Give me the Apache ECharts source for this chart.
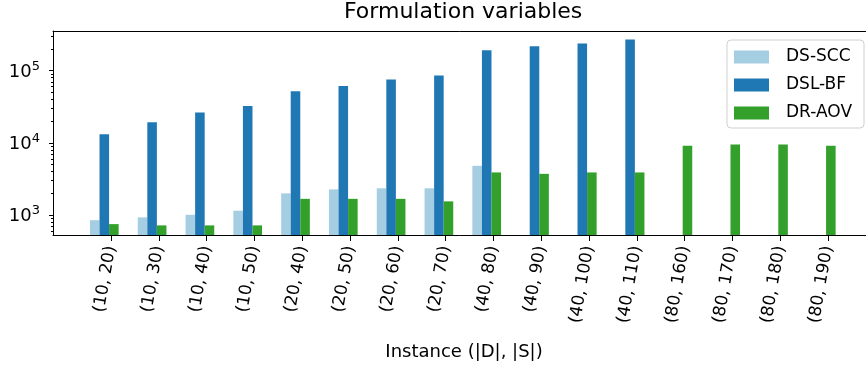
<!DOCTYPE html>
<html>
<head>
<meta charset="utf-8">
<script src="https://cdn.jsdelivr.net/npm/echarts@6/dist/echarts.min.js"></script>
<style>
    html, body { margin: 0; padding: 0; background: #fff; }
    #chart { width: 866px; height: 367px; }
</style>
</head>
<body>
<div id="chart"></div>
<script>
var instances = ['(10, 20)', '(10, 30)', '(10, 40)', '(10, 50)', '(20, 40)', '(20, 50)', '(20, 60)', '(20, 70)',
    '(40, 80)', '(40, 90)', '(40, 100)', '(40, 110)', '(80, 160)', '(80, 170)', '(80, 180)', '(80, 190)'];

var dsScc = [850, 930, 1010, 1150, 2000, 2270, 2350, 2350, 4820, '-', '-', '-', '-', '-', '-', '-'];
var dslBf = [13200, 19400, 26400, 32400, 52100, 61200, 75700, 86100, 192800, 219000, 238600, 271000, '-', '-', '-', '-'];
var drAov = [750, 720, 720, 720, 1680, 1680, 1680, 1550, 3900, 3730, 3900, 3900, 9120, 9530, 9530, 9120];

var majorTicks = [1000, 10000, 100000];
var minorTicks = [600, 700, 800, 900, 2000, 3000, 4000, 5000, 6000, 7000, 8000, 9000,
    20000, 30000, 40000, 50000, 60000, 70000, 80000, 90000, 200000, 300000];

var yMin = 530;
var yMax = 355000;

var chart = echarts.init(document.getElementById('chart'), null, {renderer: 'canvas'});

var font = 'DejaVu Sans';
var ink = '#000';

var gridTop = 31;
var gridHeight = 204;

var option = {
    animation: false,
    backgroundColor: '#fff',
    title: {
        text: 'Formulation variables',
        left: 344,
        top: 1,
        padding: 0,
        textStyle: {fontFamily: font, fontSize: 22, fontWeight: 'normal', color: ink}
    },
    legend: {
        orient: 'vertical',
        left: 727,
        top: 40,
        padding: [8, 12, 6, 7],
        itemWidth: 35,
        itemHeight: 13,
        itemGap: 10,
        icon: 'rect',
        backgroundColor: 'rgba(255,255,255,0.8)',
        borderColor: '#d0d0d0',
        borderWidth: 1,
        borderRadius: 4,
        textStyle: {fontFamily: font, fontSize: 17, color: ink, lineHeight: 18, padding: [0, 0, 0, 12]},
        data: ['DS-SCC', 'DSL-BF', 'DR-AOV']
    },
    grid: [
        // frame with the spines and the log axis
        {left: 53, top: gridTop, width: 822, height: gridHeight, outerBoundsMode: 'none', containLabel: false},
        // tick marks and labels of the instances
        {left: 87.1, top: gridTop, width: 764.8, height: gridHeight, outerBoundsMode: 'none', containLabel: false},
        // bars, shifted a bit left of the ticks
        {left: 80.4, top: gridTop, width: 764.8, height: gridHeight, outerBoundsMode: 'none', containLabel: false}
    ],
    xAxis: [
        {
            gridIndex: 0, type: 'value', min: 0, max: 1, position: 'bottom',
            name: 'Instance (|D|, |S|)', nameLocation: 'middle', nameGap: 108,
            nameTextStyle: {fontFamily: font, fontSize: 18, color: ink},
            axisLine: {show: true, lineStyle: {color: ink, width: 1}},
            axisTick: {show: false}, axisLabel: {show: false}, splitLine: {show: false}
        },
        {
            gridIndex: 0, type: 'value', min: 0, max: 1, position: 'top',
            axisLine: {show: true, lineStyle: {color: ink, width: 1}},
            axisTick: {show: false}, axisLabel: {show: false}, splitLine: {show: false}
        },
        {
            gridIndex: 1, type: 'category', data: instances, position: 'bottom',
            axisLine: {show: false},
            axisTick: {show: true, alignWithLabel: true, length: 6, lineStyle: {color: ink, width: 1}},
            axisLabel: {interval: 0, rotate: 80, margin: 11, fontFamily: font, fontSize: 17, color: ink},
            splitLine: {show: false}
        },
        {
            gridIndex: 2, type: 'category', data: instances, show: false
        }
    ],
    yAxis: [
        {
            gridIndex: 0, type: 'log', logBase: 10, min: yMin, max: yMax, position: 'left',
            axisLine: {show: true, lineStyle: {color: ink, width: 1}},
            axisTick: {show: true, length: 4, customValues: majorTicks, lineStyle: {color: ink, width: 1}},
            axisLabel: {
                customValues: majorTicks,
                margin: 13,
                formatter: function(value) {
                    return '{b|10}{s|' + Math.round(Math.log10(value)) + '}';
                },
                rich: {
                    b: {fontFamily: font, fontSize: 18, color: ink, padding: [3, 0, 0, 0]},
                    s: {fontFamily: font, fontSize: 13, color: ink, padding: [0, 0, 8, 0]}
                }
            },
            minorTick: {show: false},
            splitLine: {show: false}
        },
        {
            gridIndex: 0, type: 'log', logBase: 10, min: yMin, max: yMax, position: 'left',
            axisLine: {show: false},
            axisTick: {show: true, length: 2, customValues: minorTicks, lineStyle: {color: ink, width: 1}},
            axisLabel: {show: false},
            splitLine: {show: false}
        },
        {
            gridIndex: 1, type: 'value', show: false
        },
        {
            gridIndex: 2, type: 'log', logBase: 10, min: yMin, max: yMax, show: false
        }
    ],
    series: [
        {
            name: 'DS-SCC', type: 'bar', xAxisIndex: 3, yAxisIndex: 3,
            barWidth: 9.56, barGap: '0%',
            itemStyle: {color: '#a6cee3'},
            data: dsScc
        },
        {
            name: 'DSL-BF', type: 'bar', xAxisIndex: 3, yAxisIndex: 3,
            barWidth: 9.56, barGap: '0%',
            itemStyle: {color: '#1f78b4'},
            data: dslBf
        },
        {
            name: 'DR-AOV', type: 'bar', xAxisIndex: 3, yAxisIndex: 3,
            barWidth: 9.56, barGap: '0%',
            itemStyle: {color: '#33a02c'},
            data: drAov
        }
    ]
};

chart.setOption(option);
</script>
</body>
</html>
